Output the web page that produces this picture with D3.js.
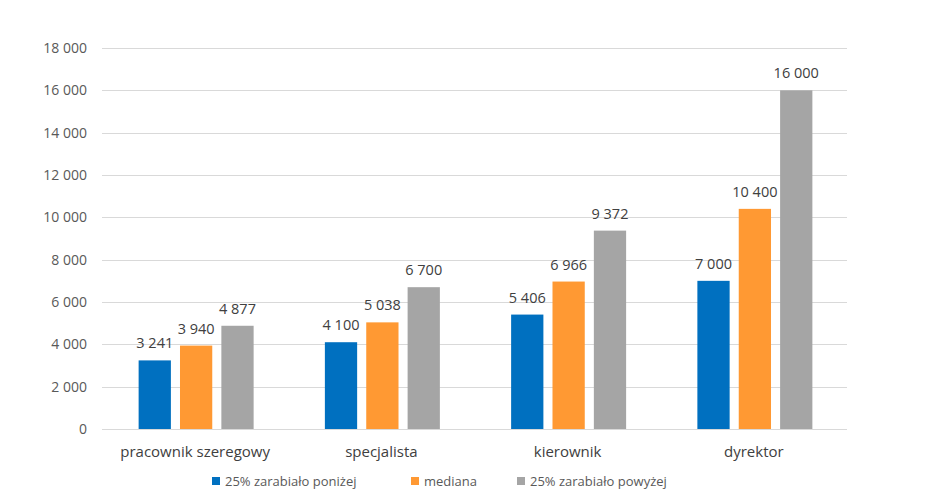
<!DOCTYPE html>
<html><head><meta charset="utf-8">
<script src="https://cdn.jsdelivr.net/npm/d3@7"></script>
<style>body{margin:0;background:#fff;} text{font-family:"Open Sans","Noto Sans",sans-serif;}</style>
</head><body>
<svg id="c" width="930" height="490"></svg>
<script>
const categories = ["pracownik szeregowy","specjalista","kierownik","dyrektor"];
const seriesNames = ["25% zarabiało poniżej","mediana","25% zarabiało powyżej"];
const seriesColors = ["#0070C0","#FF9933","#A5A5A5"];
const lowQuartile = [3241,4100,5406,7000];
const median = [3940,5038,6966,10400];
const highQuartile = [4877,6700,9372,16000];
const yTicks = [0,2000,4000,6000,8000,10000,12000,14000,16000,18000];

(function(){
const series = [lowQuartile, median, highQuartile];
const svg = d3.select("#c");
const pLeft = 102, pRight = 847, pTop = 48, pBottom = 429;
const fmt = v => d3.format(",")(v).replace(/,/g, " ");
const y = d3.scaleLinear().domain([0,18000]).range([pBottom, pTop]);
const x0 = d3.scaleBand().domain(categories).range([pLeft, pRight]).paddingInner(0).paddingOuter(0);
const x1 = d3.scaleBand().domain([0,1,2]).range([x0.bandwidth()/2 - 56.5, x0.bandwidth()/2 + 58.5]).paddingInner(0.22).paddingOuter(0);

svg.append("g").selectAll("line").data(yTicks).join("line")
  .attr("x1", pLeft).attr("x2", pRight)
  .attr("y1", d => Math.round(y(d))+0.5).attr("y2", d => Math.round(y(d))+0.5)
  .attr("stroke", "#d9d9d9").attr("stroke-width", 1);

svg.append("g").selectAll("text").data(yTicks).join("text")
  .attr("x", 87).attr("y", d => y(d) + 5)
  .attr("text-anchor", "end").attr("font-size", 14).attr("fill", "#595959")
  .text(d => fmt(d));

const g = svg.append("g").selectAll("g").data(categories).join("g")
  .attr("transform", d => `translate(${x0(d)},0)`);
series.forEach((vals, si) => {
  g.append("rect")
    .attr("x", (d,i) => x1(si)).attr("width", x1.bandwidth())
    .attr("y", (d,i) => y(vals[i])).attr("height", (d,i) => y(0) - y(vals[i]))
    .attr("fill", seriesColors[si]);
  g.append("text")
    .attr("x", (d,i) => x1(si) + x1.bandwidth()/2)
    .attr("y", (d,i) => y(vals[i]) - 12)
    .attr("text-anchor", "middle").attr("font-size", 14.5).attr("fill", "#404040")
    .text((d,i) => fmt(vals[i]));
});

svg.append("g").selectAll("text").data(categories).join("text")
  .attr("x", d => x0(d) + x0.bandwidth()/2).attr("y", 457)
  .attr("text-anchor", "middle").attr("font-size", 15).attr("fill", "#404040")
  .text(d => d);

const legX = [212, 411, 517];
const lg = svg.append("g");
seriesNames.forEach((n, i) => {
  lg.append("rect").attr("x", legX[i]).attr("y", 477).attr("width", 8).attr("height", 8).attr("fill", seriesColors[i]);
  lg.append("text").attr("x", legX[i] + 13).attr("y", 486).attr("font-size", 13).attr("fill", "#595959").text(n);
});
})();
</script>
</body></html>
